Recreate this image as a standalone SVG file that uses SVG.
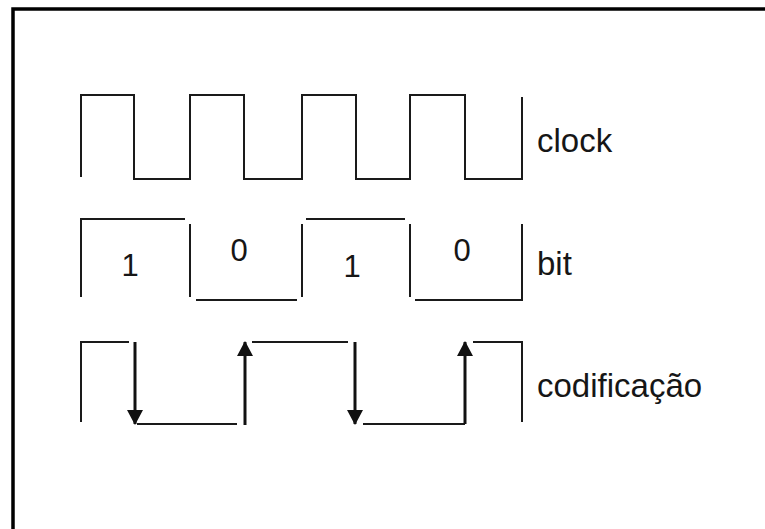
<svg xmlns="http://www.w3.org/2000/svg" width="765" height="529" viewBox="0 0 765 529">
  <style>
    .wave { fill: none; stroke: #1a1a1a; stroke-width: 2; stroke-linejoin: miter; }
    .shaft { fill: none; stroke: #111; stroke-width: 3; }
    .label { font-family: "Liberation Sans", Arial, sans-serif; font-size: 33px; fill: #161616; }
    .digit { font-family: "Liberation Sans", Arial, sans-serif; font-size: 31px; fill: #161616; text-anchor: middle; }
  </style>
  <defs>
    <marker id="head" viewBox="0 0 15 16" refX="14" refY="8" markerWidth="15" markerHeight="16" markerUnits="userSpaceOnUse" orient="auto">
      <path d="M0,0 L15,8 L0,16 Z" fill="#111"/>
    </marker>
  </defs>
  <rect width="765" height="529" fill="#ffffff"/>
  <!-- frame: only the top and left edges fall inside the view -->
  <rect x="13" y="9" width="800" height="600" fill="none" stroke="#000" stroke-width="3.5"/>

  <g id="clock">
    <polyline class="wave" points="81,177 81,95 134,95 134,179 190,179 190,95 244,95 244,179 302,179 302,95 356,95 356,179 410,179 410,95 465,95 465,179 522,179 522,97"/>
    <text class="label" x="537" y="152">clock</text>
  </g>

  <g id="bit">
    <polyline class="wave" points="81,297 81,219 185,219"/>
    <line class="wave" x1="190" y1="224" x2="190" y2="297"/>
    <line class="wave" x1="196" y1="300" x2="297" y2="300"/>
    <line class="wave" x1="302" y1="224" x2="302" y2="297"/>
    <line class="wave" x1="306" y1="219" x2="405" y2="219"/>
    <line class="wave" x1="410" y1="224" x2="410" y2="297"/>
    <polyline class="wave" points="415,300 522,300 522,224"/>
    <text class="digit" x="130" y="276">1</text>
    <text class="digit" x="239" y="261">0</text>
    <text class="digit" x="352" y="277">1</text>
    <text class="digit" x="462" y="261">0</text>
    <text class="label" x="537" y="275">bit</text>
  </g>

  <g id="codificacao">
    <polyline class="wave" points="81,422 81,342 129,342"/>
    <line class="wave" x1="137" y1="424" x2="237" y2="424"/>
    <line class="wave" x1="252" y1="342" x2="348" y2="342"/>
    <line class="wave" x1="363" y1="424" x2="465" y2="424"/>
    <polyline class="wave" points="473,342 522,342 522,422"/>
    <text class="label" x="537" y="397">codificação</text>
  </g>

  <g id="connectors">
    <line class="shaft" x1="135" y1="342" x2="135" y2="424" marker-end="url(#head)"/>
    <line class="shaft" x1="245" y1="425" x2="245" y2="342" marker-end="url(#head)"/>
    <line class="shaft" x1="355" y1="342" x2="355" y2="424" marker-end="url(#head)"/>
    <line class="shaft" x1="465" y1="424" x2="465" y2="342" marker-end="url(#head)"/>
  </g>
</svg>
